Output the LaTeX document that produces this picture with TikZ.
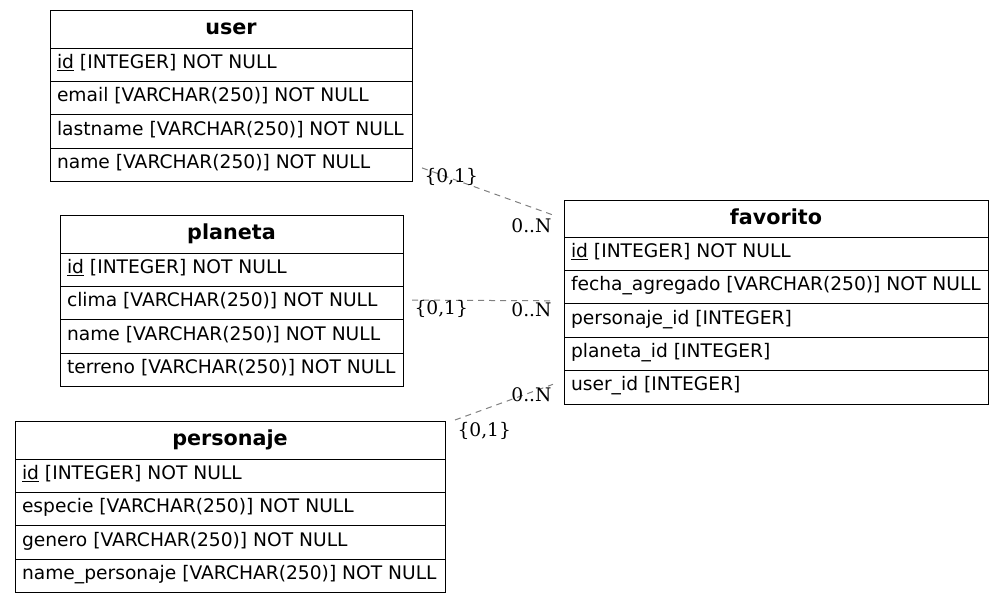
\documentclass[tikz,border=0pt]{standalone}
\usepackage{fontspec}
\setmainfont{DejaVu Serif}
\newfontfamily\tblfont{DejaVu Sans}
\usetikzlibrary{positioning}
\tikzset{
  head/.style={draw, line width=1pt, outer sep=0pt, minimum width=#1, minimum height=38pt, inner sep=0pt,
    text height=17pt, text depth=6pt, font=\tblfont\bfseries\fontsize{20.7}{24}\selectfont},
  row/.style={draw, line width=1pt, outer sep=0pt, inner xsep=7pt, inner ysep=0pt,
    minimum height=33.4pt, text height=14pt, text depth=7pt,
    execute at begin node={\hbox to #1\bgroup}, execute at end node={\hfil\egroup},
    font=\tblfont\fontsize{18.67}{22}\selectfont},
  rel/.style={draw={rgb,255:red,128;green,128;blue,128}, dash pattern=on 6pt off 5pt, line width=1pt},
  card/.style={inner sep=0pt, font=\fontsize{18.67}{22}\selectfont}
}
\begin{document}
\begin{tikzpicture}
\useasboundingbox (0,0) rectangle (1004pt,-603pt);
\node[head=362pt, anchor=north west] (u0) at (50pt,-10pt) {user};
\node[row=348pt, below=0pt of u0] (u1) {\underline{id} [INTEGER] NOT NULL};
\node[row=348pt, below=0pt of u1] (u2) {email [VARCHAR(250)] NOT NULL};
\node[row=348pt, below=0pt of u2] (u3) {lastname [VARCHAR(250)] NOT NULL};
\node[row=348pt, below=0pt of u3] (u4) {name [VARCHAR(250)] NOT NULL};

\node[head=343pt, anchor=north west] (p0) at (60pt,-215pt) {planeta};
\node[row=329pt, below=0pt of p0] (p1) {\underline{id} [INTEGER] NOT NULL};
\node[row=329pt, below=0pt of p1] (p2) {clima [VARCHAR(250)] NOT NULL};
\node[row=329pt, below=0pt of p2] (p3) {name [VARCHAR(250)] NOT NULL};
\node[row=329pt, below=0pt of p3] (p4) {terreno [VARCHAR(250)] NOT NULL};

\node[head=430pt, anchor=north west] (c0) at (15pt,-421pt) {personaje};
\node[row=416pt, below=0pt of c0] (c1) {\underline{id} [INTEGER] NOT NULL};
\node[row=416pt, below=0pt of c1] (c2) {especie [VARCHAR(250)] NOT NULL};
\node[row=416pt, below=0pt of c2] (c3) {genero [VARCHAR(250)] NOT NULL};
\node[row=416pt, below=0pt of c3] (c4) {name\_personaje [VARCHAR(250)] NOT NULL};

\node[head=424pt, anchor=north west, minimum height=37pt] (f0) at (564pt,-200pt) {favorito};
\node[row=410pt, below=0pt of f0] (f1) {\underline{id} [INTEGER] NOT NULL};
\node[row=410pt, below=0pt of f1] (f2) {fecha\_agregado [VARCHAR(250)] NOT NULL};
\node[row=410pt, below=0pt of f2] (f3) {personaje\_id [INTEGER]};
\node[row=410pt, below=0pt of f3] (f4) {planeta\_id [INTEGER]};
\node[row=410pt, below=0pt of f4] (f5) {user\_id [INTEGER]};

\draw[rel] ([xshift=10pt,yshift=-3pt]u4.east) --
  node[card, pos=0, anchor=north west, xshift=2pt] (uc) {\{0,1\}}
  node[card, pos=1, anchor=north east, xshift=-1pt, yshift=-3pt] (un) {0..N}
  ([xshift=-11pt,yshift=3.5pt]f0.west);
\draw[rel] ([xshift=9pt,yshift=3pt]p2.east) --
  node[card, pos=0, anchor=north west, xshift=2pt] (pc) {\{0,1\}}
  node[card, pos=1, anchor=north east, xshift=-1pt, yshift=-1pt] (pn) {0..N}
  ([xshift=-11pt,yshift=3pt]f2.south west);
\draw[rel] ([xshift=10pt,yshift=1pt]c0.north east) --
  node[card, pos=0, anchor=north west, xshift=2pt, yshift=-2pt] (cc) {\{0,1\}}
  node[card, pos=1, anchor=north east, xshift=-1pt, yshift=-3pt] (cn) {0..N}
  ([xshift=-11pt,yshift=3pt]f5.west);
\end{tikzpicture}
\end{document}
